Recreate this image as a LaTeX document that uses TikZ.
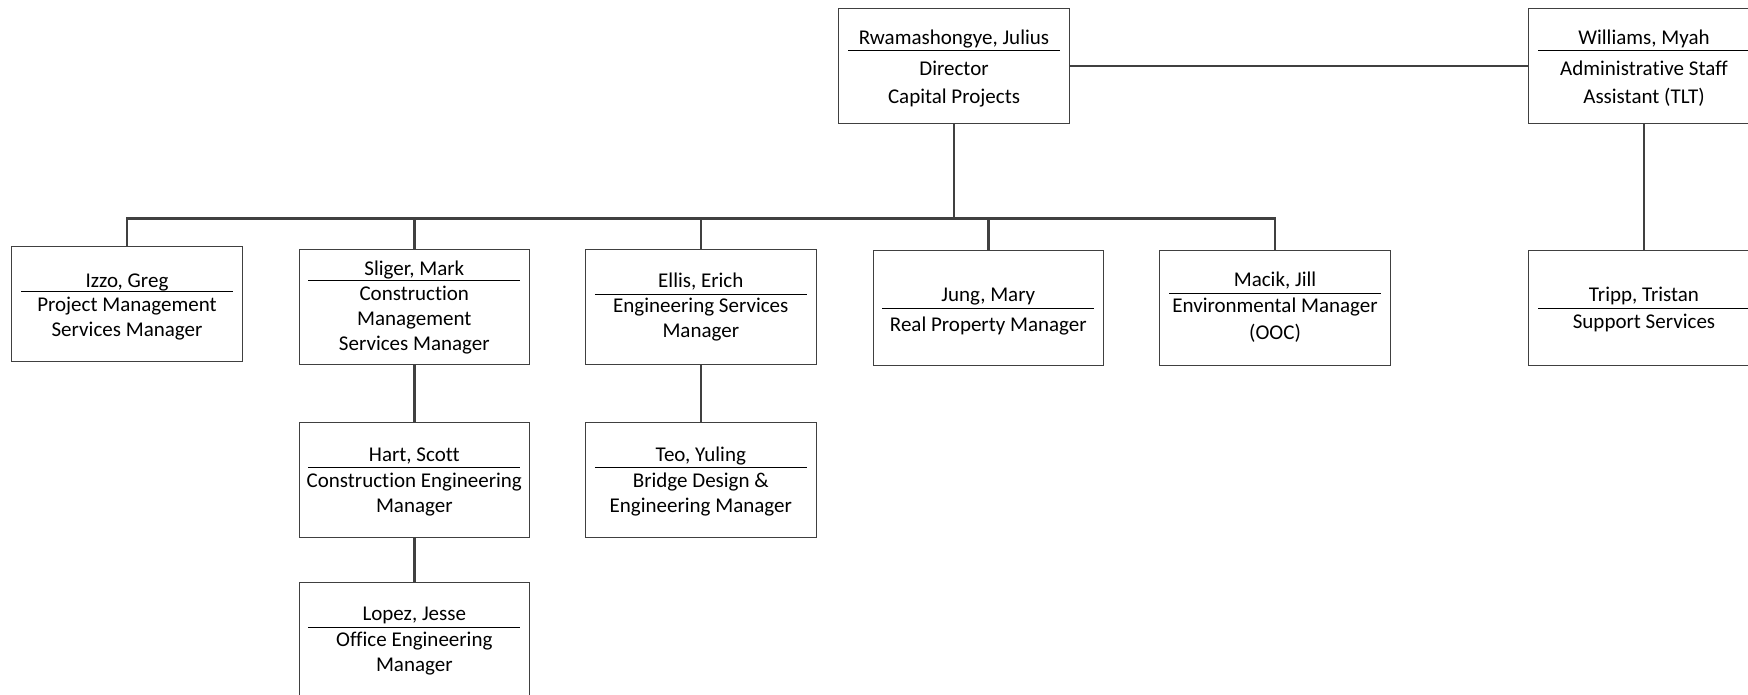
\documentclass[tikz,border=0pt]{standalone}
\usepackage{fontspec}
\setmainfont{Carlito}[Ligatures={NoCommon,NoRare,NoContextual}]
\definecolor{connc}{HTML}{404040}
\definecolor{boxc}{HTML}{404040}
\tikzset{
  x=1pt, y=-1pt,
  card/.style={draw=boxc, line width=1pt, minimum width=230.5pt, minimum height=115pt, inner sep=0pt, fill=white},
  conn/.style={draw=connc, line width=2.6pt},
  nm/.style={anchor=base, inner sep=0pt, font=\fontsize{21}{25}\selectfont},
  namerule/.style={draw=black, line width=1pt}
}
% id, cx, top, name, nameBase, ruleY, linesBase, skip, lines
\newcommand\orgcard[9]{%
  \node[card] (#1) at (#2, #3+57.5) {};
  \node[nm] (#1-n) at (#2, #5) {#4};
  \draw[namerule] (#2-106, #6) -- (#2+106, #6);
  \node[nm] (#1-s) at (#2, #7) {\parbox[t]{228pt}{\centering\fontsize{21}{#8}\selectfont #9}};
}
\begin{document}
\begin{tikzpicture}
\path[fill=white, use as bounding box] (0,0) rectangle (1748,695);

\orgcard{dir}{954}{8.5}{Rwamashongye, Julius}{44.3}{51}{76}{28}{Director\\Capital Projects}
\orgcard{wil}{1644}{8.5}{Williams, Myah}{45}{51}{76}{28}{Administrative Staff\\Assistant (TLT)}

\orgcard{izzo}{127}{246.5}{Izzo, Greg}{287.3}{291}{311.7}{25}{Project Management\\Services Manager}
\orgcard{sli}{414.3}{249}{Sliger, Mark}{275}{280.3}{300.7}{25}{Construction\\Management\\Services Manager}
\orgcard{ell}{700.8}{249}{Ellis, Erich}{287.3}{294}{312.7}{24.7}{Engineering Services\\Manager}
\orgcard{jung}{988.3}{250.7}{Jung, Mary}{301}{308.3}{331.7}{25}{Real Property Manager}
\orgcard{mac}{1275}{250.7}{Macik, Jill}{286}{293.3}{312.7}{27}{Environmental Manager\\(OOC)}
\orgcard{tri}{1644}{250.7}{Tripp, Tristan}{301}{308.3}{328}{25}{Support Services}

\orgcard{hart}{414.3}{422.7}{Hart, Scott}{461}{467.3}{487.3}{25}{Construction Engineering\\Manager}
\orgcard{teo}{700.8}{422.7}{Teo, Yuling}{461}{467.3}{487.3}{25}{Bridge Design \&\\Engineering Manager}
\orgcard{lop}{414.3}{582.3}{Lopez, Jesse}{620.7}{627}{646.7}{25}{Office Engineering\\Manager}

\coordinate (bus) at (0,218.3);
\draw[conn] (dir.south) -- (dir.south |- bus);
\draw[conn] (izzo.north) -- (izzo.north |- bus) -- (mac.north |- bus) -- (mac.north);
\draw[conn] (sli.north) -- (sli.north |- bus);
\draw[conn] (ell.north) -- (ell.north |- bus);
\draw[conn] (jung.north) -- (jung.north |- bus);
\draw[conn] (dir.east) -- (wil.west);
\draw[conn] (wil.south) -- (tri.north);
\draw[conn] (sli.south) -- (hart.north);
\draw[conn] (hart.south) -- (lop.north);
\draw[conn] (ell.south) -- (teo.north);
\end{tikzpicture}
\end{document}
